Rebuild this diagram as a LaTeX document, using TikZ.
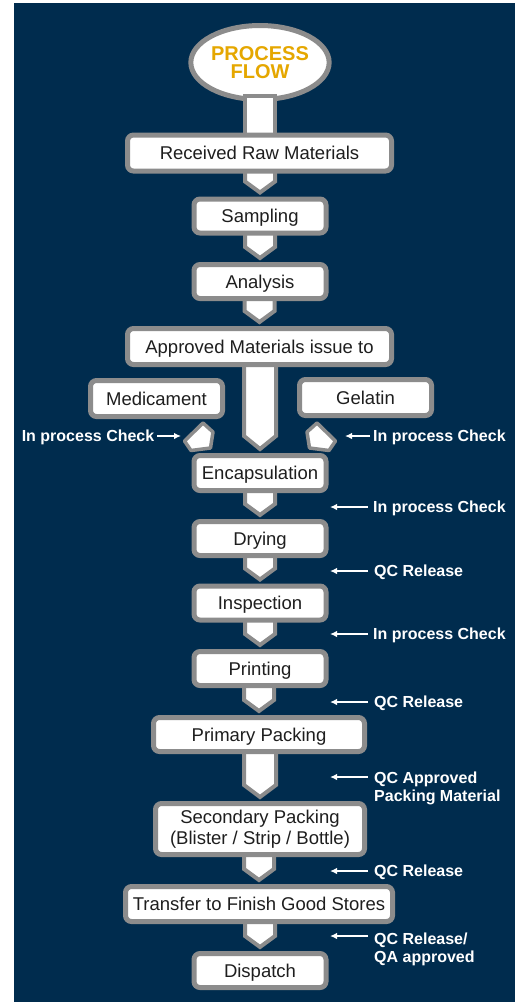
\documentclass[tikz,border=0pt]{standalone}
\usepackage{fontspec}
\setmainfont{Liberation Sans}
\usetikzlibrary{calc,arrows.meta,shapes.geometric}
\definecolor{navy}{RGB}{0,44,78}
\definecolor{bordergray}{RGB}{140,140,140}
\definecolor{gold}{RGB}{229,167,0}
\definecolor{ink}{RGB}{30,30,30}
\pgfdeclarelayer{bglayer}
\pgfdeclarelayer{connlayer}
\pgfsetlayers{bglayer,connlayer,main}
\newcommand\flowconn[4]{%
  \draw[connshape] let \p1=(#1), \p2=($(#2.north)+(0,-4)$) in
    (\x2-#3pt,\y1) -- (\x2+#3pt,\y1) -- (\x2+#3pt,\y2+#4pt) -- (\x2,\y2) -- (\x2-#3pt,\y2+#4pt) -- cycle;}
\begin{document}
\begin{tikzpicture}[x=1pt,y=-1pt,
  stepbox/.style={draw=bordergray, line width=5pt, fill=white, rounded corners=6pt,
    inner sep=0pt, text=ink, font=\fontsize{18.5}{21}\selectfont,
    text height=13.2pt, text depth=0pt},
  smallbox/.style={stepbox, minimum width=132pt, minimum height=34pt},
  widebox/.style={stepbox, minimum width=264pt, minimum height=36pt},
  connshape/.style={draw=bordergray, line width=4pt, fill=white, line join=miter},
  pent/.style={draw=bordergray, line width=3.5pt, fill=white, line join=round},
  lbl/.style={text=white, font=\bfseries\fontsize{16}{18}\selectfont, inner sep=0pt,
    text height=11.5pt, text depth=0pt},
  lblm/.style={text=white, font=\bfseries\fontsize{16}{18}\selectfont, inner sep=0pt,
    align=left, anchor=north west},
  larrow/.style={draw=white, line width=1.5pt, -{Latex[length=7pt,width=6.5pt]}}
]
\useasboundingbox (0,0) rectangle (520,1002);
\begin{pgfonlayer}{bglayer}
  \fill[navy] (14,3) rectangle (515,1002);
  \node[ellipse, draw=bordergray, line width=5pt, fill=white, minimum width=129pt,
    minimum height=74pt, inner sep=0pt, text=gold, align=center,
    font=\bfseries\fontsize{20}{18}\selectfont] (pf) at (260,62.5) {PROCESS\\FLOW};
\end{pgfonlayer}

% process boxes
\node[widebox] (rec) at (259.5,153) {Received Raw Materials};
\node[smallbox] (samp) at (260,216) {Sampling};
\node[smallbox] (ana) at (260,281.5) {Analysis};
\node[widebox, minimum height=36pt] (appr) at (259.5,346.5) {Approved Materials issue to};
\node[smallbox, minimum height=36pt] (med) at (156.5,398.5) {Medicament};
\node[smallbox, minimum height=36pt] (gel) at (365.5,397.5) {Gelatin};
\node[smallbox, minimum height=35pt] (enc) at (260,473) {Encapsulation};
\node[smallbox] (dry) at (260,538.5) {Drying};
\node[smallbox] (insp) at (260,603) {Inspection};
\node[smallbox] (prn) at (260,668.5) {Printing};
\node[stepbox, minimum width=211pt, minimum height=34pt] (prim) at (259,734.5) {Primary Packing};
\node[draw=bordergray, line width=5pt, fill=white, rounded corners=6pt, inner sep=0pt,
  text=ink, font=\fontsize{18.5}{21}\selectfont, align=center,
  minimum width=209pt, minimum height=51pt] (sec) at (260,829)
  {Secondary Packing\\(Blister / Strip / Bottle)};
\node[stepbox, minimum width=267pt, minimum height=35pt] (trans) at (259,904) {Transfer to Finish Good Stores};
\node[smallbox] (disp) at (260,970.5) {Dispatch};

% connectors
\begin{pgfonlayer}{connlayer}
  \draw[connshape] ($(pf.south)+(-15,-6)$) rectangle ($(rec.center)+(15,0)$);
  \flowconn{rec.center}{samp}{15}{11}
  \flowconn{samp.center}{ana}{15}{11}
  \flowconn{ana.center}{appr}{15}{11}
  \flowconn{appr.center}{enc}{16}{13}
  \flowconn{enc.center}{dry}{15}{11}
  \flowconn{dry.center}{insp}{15}{11}
  \flowconn{insp.center}{prn}{15}{11}
  \flowconn{prn.center}{prim}{15}{11}
  \flowconn{prim.center}{sec}{16}{12}
  \flowconn{sec.center}{trans}{15}{11}
  \flowconn{trans.center}{disp}{15}{11}
\end{pgfonlayer}

% side feeds
\draw[pent] (203,423) -- (213,432) -- (210.5,448) -- (191,450.5) -- (184.5,441) -- cycle;
\draw[pent] (317,423) -- (307,432) -- (309.5,448) -- (329,450.5) -- (335.5,441) -- cycle;

% labels
\node[lbl, anchor=east] (lL) at (154.5,436) {In process Check};
\coordinate (tL) at (181,436);
\draw[larrow] ($(lL.east)+(2.5,0)$) -- (tL);
\node[lbl, anchor=west] (lR) at (373,436) {In process Check};
\coordinate (tR) at (345,436);
\draw[larrow] ($(lR.west)+(-3,0)$) -- (tR);

\node[lbl, anchor=west] (l1) at (373,507) {In process Check};
\draw[larrow] ($(l1.west)+(-5,0)$) -- ($(l1.west)+(-43,0)$);
\node[lbl, anchor=west] (l2) at (374,571) {QC Release};
\draw[larrow] ($(l2.west)+(-6,0)$) -- ($(l2.west)+(-44,0)$);
\node[lbl, anchor=west] (l3) at (373,634) {In process Check};
\draw[larrow] ($(l3.west)+(-5,0)$) -- ($(l3.west)+(-43,0)$);
\node[lbl, anchor=west] (l4) at (374,702) {QC Release};
\draw[larrow] ($(l4.west)+(-6,0)$) -- ($(l4.west)+(-44,0)$);
\node[lblm] (l5) at (374,772) {QC Approved\\Packing Material};
\draw[larrow] ($(l5.north west)+(-6,5)$) -- ($(l5.north west)+(-44,5)$);
\node[lbl, anchor=west] (l6) at (374,871) {QC Release};
\draw[larrow] ($(l6.west)+(-6,0)$) -- ($(l6.west)+(-44,0)$);
\node[lblm] (l7) at (374,933) {QC Release/\\QA approved};
\draw[larrow] ($(l7.north west)+(-6,3)$) -- ($(l7.north west)+(-44,3)$);
\end{tikzpicture}
\end{document}
